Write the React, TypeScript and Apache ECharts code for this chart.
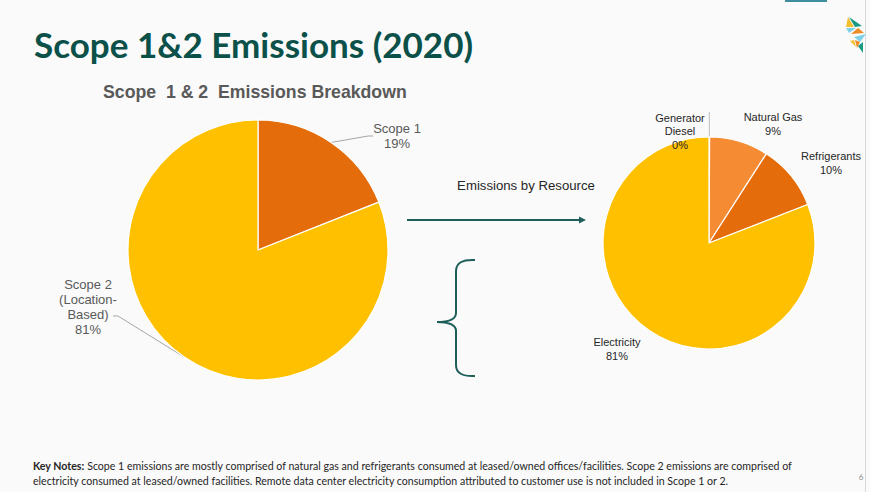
import React, { useEffect, useRef } from "react";
import * as echarts from "echarts";

const scopeLabels = ["Scope 1", "Scope 2\n(Location-\nBased)"];
const scopeValues = [19, 81];
const scopeColors = ["#e46c0a", "#ffc000"];

const resourceLabels = ["Generator\nDiesel", "Natural Gas", "Refrigerants", "Electricity"];
const resourceValues = [0.1, 9, 10, 81];
const resourceColors = ["#a6a6a6", "#f58b33", "#e46c0a", "#ffc000"];

const titleText = "Scope 1&2 Emissions (2020)";
const subtitleText = "Scope  1 & 2  Emissions Breakdown";
const resourceTitle = "Emissions by Resource";
const noteLine1 =
  "Scope 1 emissions are mostly comprised of natural gas and refrigerants consumed at leased/owned offices/facilities. Scope 2 emissions are comprised of";
const noteLine2 =
  "electricity consumed at leased/owned facilities. Remote data center electricity consumption attributed to customer use is not included in Scope 1 or 2.";

const bracePath =
  "M475,260 Q456,259 456,271 L456,313 Q456,322 437,322 Q456,322 456,331 L456,365 Q456,377 475,376";
echarts.graphic.registerShape("brace", echarts.graphic.extendPath(bracePath, {}));

const scopeLabelPos = [
  { x: 397, y: 136 },
  { x: 88, y: 307 },
];
const resourceLabelPos = [
  { x: 680, y: 131 },
  { x: 773, y: 124 },
  { x: 831, y: 163 },
  { x: 617, y: 349 },
];

export default function App() {
  const ref = useRef<HTMLDivElement>(null);
  useEffect(() => {
    if (!ref.current) return;
    const chart = echarts.init(ref.current, undefined, { renderer: "svg" });
    const teal = "#1d5e59";
    chart.setOption({
      animation: false,
      backgroundColor: "#fafafa",
      series: [
        {
          type: "pie",
          center: [258, 250],
          radius: 130,
          startAngle: 90,
          clockwise: true,
          itemStyle: { borderColor: "#ffffff", borderWidth: 1.2 },
          label: {
            show: true,
            position: "outside",
            color: "#595959",
            fontFamily: "Liberation Sans, Arial, sans-serif",
            fontSize: 13,
            lineHeight: 15,
            align: "center",
            overflow: "none",
            formatter: (p: any) => `${scopeLabels[p.dataIndex]}\n${Math.round(p.percent)}%`,
          },
          labelLine: { show: true, length: 5, length2: 5, lineStyle: { color: "#a6a6a6", width: 1 } },
          labelLayout: (p: any) => {
            const pos = scopeLabelPos[p.dataIndex];
            const res: any = { x: pos.x, y: pos.y, align: "center", verticalAlign: "middle" };
            if (p.dataIndex === 1 && p.labelLinePoints) {
              const e = p.labelLinePoints[0];
              res.labelLinePoints = [
                [e[0], e[1]],
                [pos.x + 30, pos.y + 9],
                [pos.x + 25, pos.y + 9],
              ];
            }
            return res;
          },
          data: scopeValues.map((v, i) => ({
            value: v,
            name: scopeLabels[i],
            itemStyle: { color: scopeColors[i] },
          })),
        },
        {
          type: "pie",
          center: [709, 243],
          radius: 106,
          startAngle: 90,
          clockwise: true,
          itemStyle: { borderColor: "#ffffff", borderWidth: 1.2 },
          label: {
            show: true,
            position: "outside",
            color: "#262626",
            fontFamily: "Liberation Sans, Arial, sans-serif",
            fontSize: 11,
            lineHeight: 13.5,
            align: "center",
            overflow: "none",
            formatter: (p: any) => `${resourceLabels[p.dataIndex]}\n${Math.round(p.percent)}%`,
          },
          labelLine: { show: false },
          labelLayout: (p: any) => {
            const res: any = {
              x: resourceLabelPos[p.dataIndex].x,
              y: resourceLabelPos[p.dataIndex].y,
              align: "center",
              verticalAlign: "middle",
            };
            if (p.dataIndex === 0 && p.labelLinePoints) {
              const e = p.labelLinePoints[0];
              res.labelLinePoints = [
                [e[0], e[1]],
                [e[0], e[1] - 12],
                [e[0], e[1] - 25],
              ];
            }
            return res;
          },
          data: resourceValues.map((v, i) => ({
            value: v,
            name: resourceLabels[i],
            itemStyle: { color: resourceColors[i] },
            labelLine:
              i === 0
                ? { show: true, length: 10, length2: 10, lineStyle: { color: "#bfbfbf", width: 1 } }
                : { show: false },
          })),
        },
      ],
      graphic: [
        { type: "rect", shape: { x: 785, y: 0, width: 42, height: 2 }, style: { fill: "#3d8fa0" } },
        { type: "line", shape: { x1: 865.5, y1: 0, x2: 865.5, y2: 492 }, style: { stroke: "#d9d9d9", lineWidth: 1 } },
        {
          type: "text",
          x: 34,
          y: 44,
          style: {
            text: titleText,
            fill: "#0b5049",
            font: "bold 35px Lato, 'Open Sans', sans-serif",
            textVerticalAlign: "middle",
          },
        },
        {
          type: "text",
          x: 103,
          y: 92,
          style: {
            text: subtitleText,
            fill: "#595959",
            font: "bold 17.7px 'Liberation Sans', Arial, sans-serif",
            textVerticalAlign: "middle",
          },
        },
        {
          type: "text",
          x: 526,
          y: 185,
          style: {
            text: resourceTitle,
            fill: "#262626",
            font: "13.2px 'Liberation Sans', Arial, sans-serif",
            textAlign: "center",
            textVerticalAlign: "middle",
          },
        },
        {
          type: "line",
          shape: { x1: 407, y1: 220, x2: 580, y2: 220 },
          style: { stroke: teal, lineWidth: 2 },
        },
        {
          type: "polygon",
          shape: { points: [[579, 216.5], [586, 220], [579, 223.5]] },
          style: { fill: teal },
        },
        {
          type: "brace",
          x: 0,
          y: 0,
          style: { fill: "none", stroke: teal, lineWidth: 2 },
        },
        // logo
        { type: "polygon", shape: { points: [[848, 17], [846, 27], [854, 27]] }, style: { fill: "#f6c02c" } },
        { type: "polygon", shape: { points: [[849, 17], [862, 26], [855, 27]] }, style: { fill: "#1a9a84" } },
        { type: "polygon", shape: { points: [[846, 28], [856, 28], [849, 33]] }, style: { fill: "#7fd1e8" } },
        { type: "polygon", shape: { points: [[851, 34], [858, 28], [864, 33]] }, style: { fill: "#f08a24" } },
        { type: "polygon", shape: { points: [[854, 37], [866, 34], [860, 42]] }, style: { fill: "#7fd1e8" } },
        { type: "polygon", shape: { points: [[850, 41], [854, 40], [856, 47]] }, style: { fill: "#f6c02c" } },
        { type: "polygon", shape: { points: [[855, 40], [860, 42], [857, 48]] }, style: { fill: "#f08a24" } },
        { type: "polygon", shape: { points: [[858, 46], [863, 42], [863, 53]] }, style: { fill: "#1a9a84" } },
        {
          type: "text",
          x: 33,
          y: 473.5,
          style: {
            text: `{b|Key Notes:} ${noteLine1}\n${noteLine2}`,
            fill: "#262626",
            font: "10.6px Lato, 'Open Sans', sans-serif",
            lineHeight: 15,
            textVerticalAlign: "middle",
            rich: {
              b: { fontWeight: "bold", fontSize: 10.6, fontFamily: "Lato, 'Open Sans', sans-serif", fill: "#262626" },
            },
          },
        },
        {
          type: "text",
          x: 861,
          y: 477,
          style: {
            text: "6",
            fill: "#8c8c8c",
            font: "8px Lato, sans-serif",
            textAlign: "center",
            textVerticalAlign: "middle",
          },
        },
      ],
    });
    return () => chart.dispose();
  }, []);
  return (
    <div
      ref={ref}
      style={{ position: "fixed", left: 0, top: 0, width: 870, height: 492 }}
    />
  );
}
